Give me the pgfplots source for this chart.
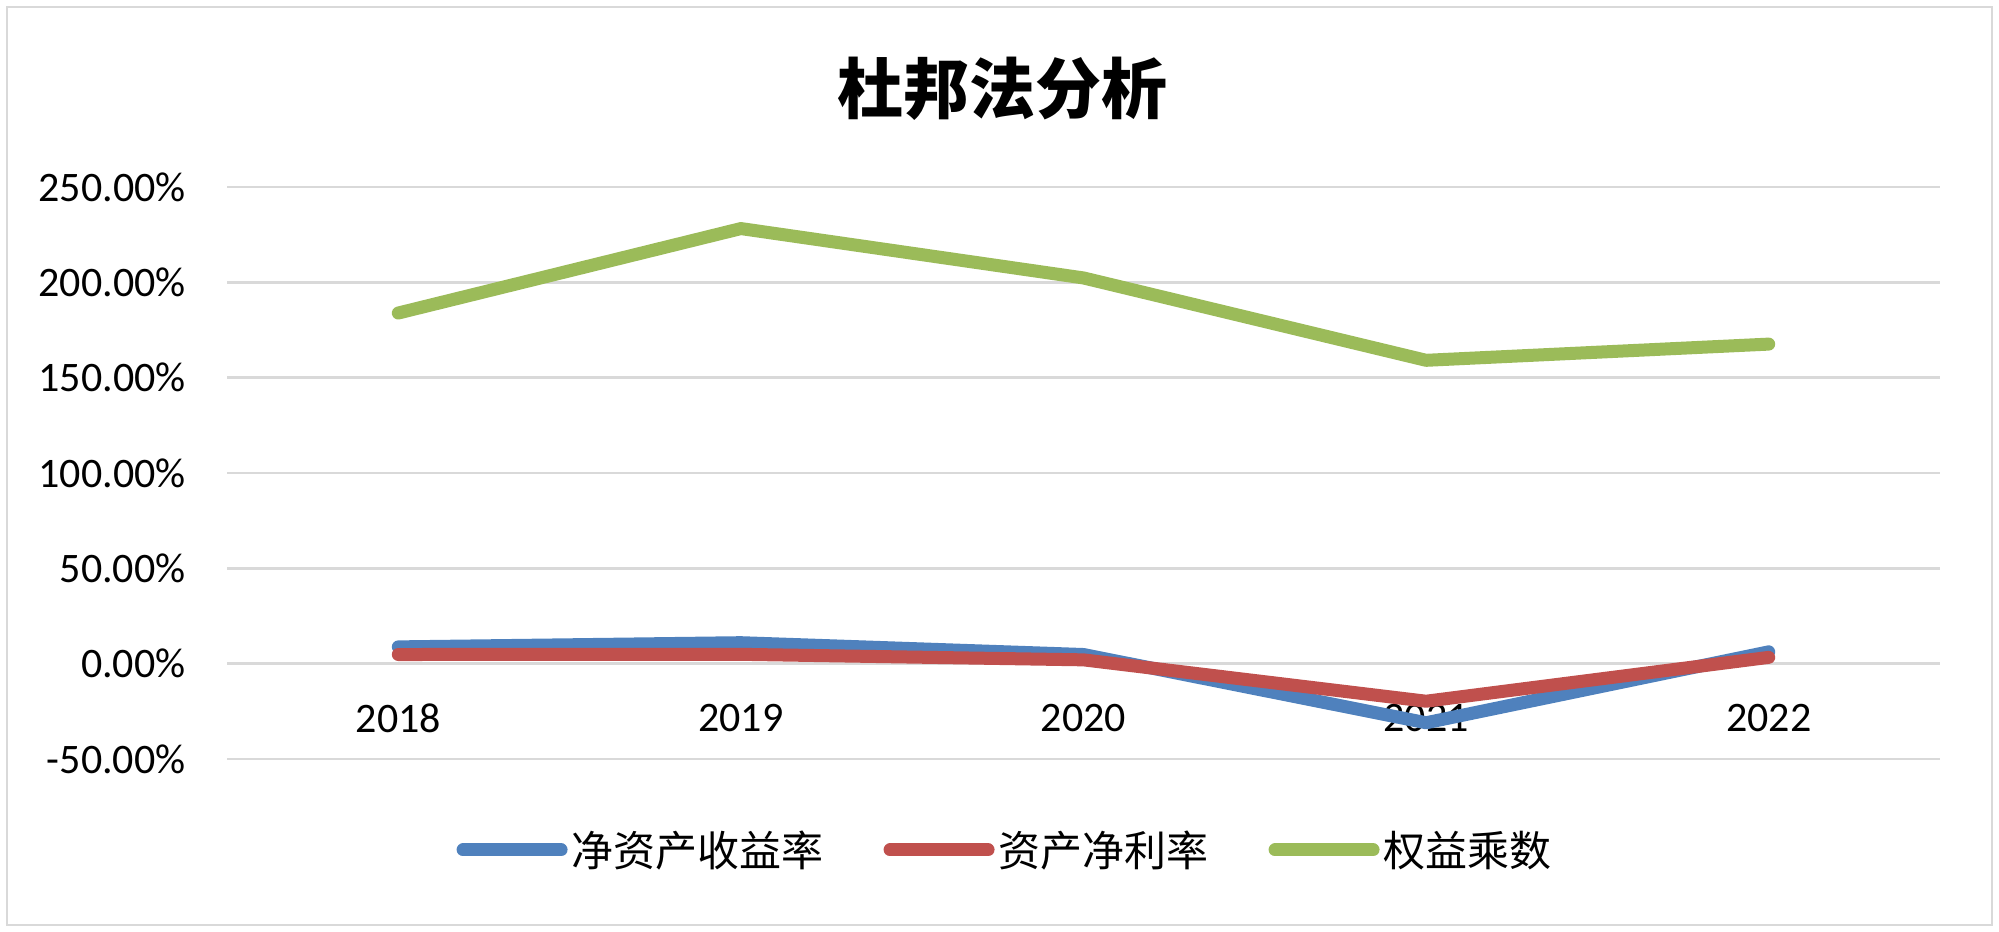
\documentclass[border=0pt]{standalone}
\usepackage{fontspec}
\setmainfont{Carlito}
\newfontfamily\cjk{Noto Sans CJK SC}
\usepackage{pgfplots}
\pgfplotsset{compat=1.18}

\definecolor{roe}{HTML}{4F81BD}
\definecolor{roa}{HTML}{C0504D}
\definecolor{em}{HTML}{9BBB59}
\definecolor{gridc}{HTML}{D9D9D9}

\begin{document}
\begin{tikzpicture}
\path[use as bounding box] (0,0) rectangle (999.5pt,466pt);
\draw[gridc, line width=1pt] (3.5pt,3.5pt) rectangle (996pt,462.5pt);
\node[font=\cjk\bfseries\fontsize{33}{36}\selectfont] at (501pt,421.5pt) {杜邦法分析};
\begin{axis}[
    at={(113.5pt,86.5pt)}, anchor=south west,
    scale only axis,
    width=856.5pt, height=286pt,
    xmin=-0.5, xmax=4.5,
    ymin=-50, ymax=250,
    xtick={0,1,2,3,4},
    xticklabels={2018,2019,2020,2021,2022},
    ytick={-50,0,50,100,150,200,250},
    yticklabel={\pgfmathprintnumber[fixed,fixed zerofill,precision=2]{\tick}\%},
    /pgf/number format/assume math mode=true,
    ticklabel style={font=\fontsize{21}{24}\selectfont, inner sep=0pt},
    xticklabel style={anchor=center, yshift=20.25pt},
    yticklabel style={anchor=east, xshift=-20.5pt},
    axis line style={draw=none},
    tick style={draw=none},
    ymajorgrids,
    grid style={gridc, line width=1.2pt},
    clip=false,
    legend columns=3,
    legend style={at={(0.4548,-0.159)}, anchor=center, draw=none,
        font=\cjk\fontsize{21}{24}\selectfont,
        /tikz/every even column/.append style={column sep=28pt}},
    legend image code/.code={\draw[#1, line cap=round] (0pt,0pt) -- (49pt,0pt);},
    every axis plot/.append style={line width=6.5pt, line join=round, line cap=round, mark=none},
]
\addplot[roe] coordinates {(0,8.8) (1,11.0) (2,4.8) (3,-31.0) (4,6.2)};
\addlegendentry{净资产收益率}
\addplot[roa] coordinates {(0,4.8) (1,4.9) (2,2.0) (3,-19.7) (4,3.3)};
\addlegendentry{资产净利率}
\addplot[em] coordinates {(0,183.9) (1,228.2) (2,202.3) (3,159.1) (4,167.6)};
\addlegendentry{权益乘数}
\end{axis}
\end{tikzpicture}
\end{document}
